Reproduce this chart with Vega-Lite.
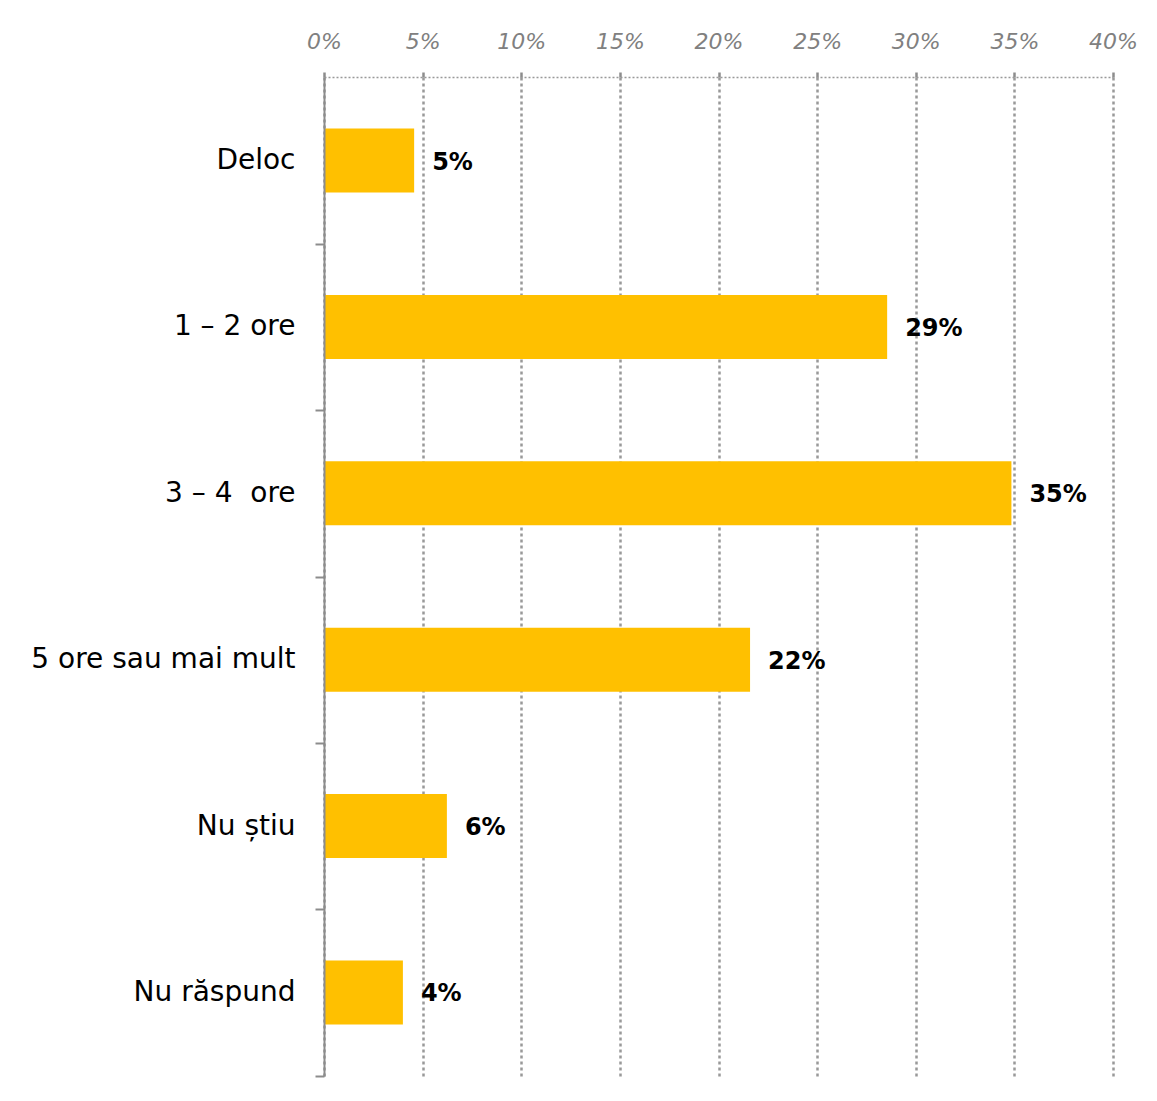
{
  "$schema": "https://vega.github.io/schema/vega-lite/v6.json",
  "autosize": {"type": "none"},
  "padding": {"left": 324, "top": 77, "right": 44, "bottom": 25},
  "width": 789,
  "height": 999,
  "background": "white",
  "config": {
    "view": {"stroke": null},
    "font": "DejaVu Sans"
  },
  "data": {
    "values": [
      {"cat": "Deloc", "value": 0.0457},
      {"cat": "1 – 2 ore", "value": 0.2855},
      {"cat": "3 – 4\u00a0 ore", "value": 0.3485},
      {"cat": "5 ore sau mai mult", "value": 0.216},
      {"cat": "Nu știu", "value": 0.0623},
      {"cat": "Nu răspund", "value": 0.04}
    ]
  },
  "encoding": {
    "y": {
      "field": "cat",
      "type": "nominal",
      "sort": null,
      "title": null,
      "scale": {"paddingInner": 0.615, "paddingOuter": 0.31},
      "axis": {
        "orient": "left",
        "zindex": 2,
        "domainColor": "#8c8c8c",
        "domainWidth": 2,
        "tickColor": "#8c8c8c",
        "tickWidth": 2,
        "tickSize": 9,
        "tickOffset": 83.25,
        "labelOffset": -83.25,
        "labelFont": "DejaVu Sans",
        "labelFontSize": 28,
        "labelColor": "#000000",
        "labelPadding": 20,
        "labelLimit": 400,
        "grid": false
      }
    },
    "x": {
      "field": "value",
      "type": "quantitative",
      "title": null,
      "scale": {"domain": [0, 0.4], "nice": false},
      "axis": {
        "orient": "top",
        "format": ".0%",
        "values": [0, 0.05, 0.1, 0.15, 0.2, 0.25, 0.3, 0.35, 0.4],
        "labelFlush": false,
        "labelFont": "DejaVu Sans",
        "labelFontStyle": "italic",
        "labelFontSize": 22,
        "labelColor": "#808080",
        "labelPadding": 19,
        "domainColor": "#999999",
        "domainDash": [2, 2],
        "domainWidth": 1.5,
        "tickColor": "#8c8c8c",
        "tickSize": 5,
        "tickWidth": 2.5,
        "grid": true,
        "gridColor": "#999999",
        "gridDash": [3, 3],
        "gridWidth": 2.5
      }
    }
  },
  "layer": [
    {"mark": {"type": "bar", "color": "#FFC000"}},
    {
      "mark": {"type": "text", "align": "left", "baseline": "middle", "dx": 18, "dy": 2, "fontSize": 24, "fontWeight": "bold", "color": "#000000", "font": "DejaVu Sans"},
      "encoding": {"text": {"field": "value", "type": "quantitative", "format": ".0%"}}
    }
  ]
}
